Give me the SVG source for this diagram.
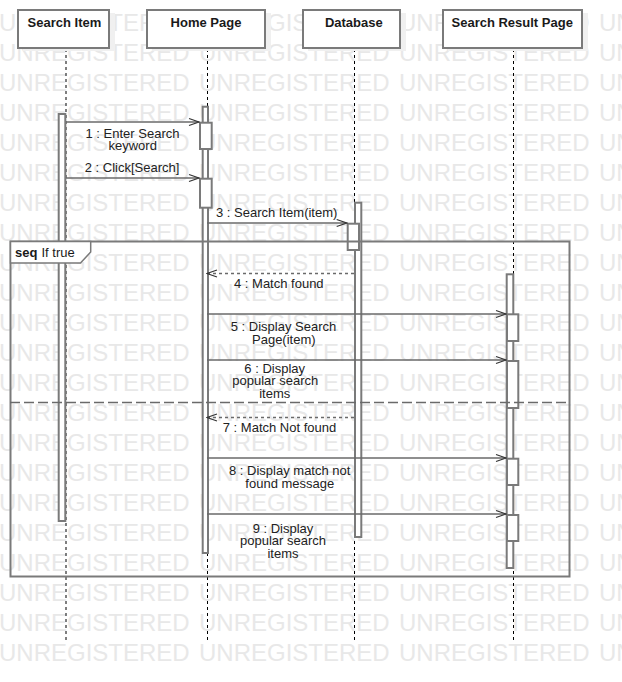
<svg xmlns="http://www.w3.org/2000/svg" width="622" height="682" viewBox="0 0 622 682">
  <style>
    .wm { font-family: "Liberation Sans", Arial, sans-serif; font-size: 24px; fill: #e8e8e8; }
    .head { fill: #ffffff; stroke: #7a7a7a; stroke-width: 2; }
    .shadow { fill: #f0f0f0; }
    .htxt { font-family: "Liberation Sans", Arial, sans-serif; font-size: 13px; font-weight: bold; fill: #1a1a1a; text-anchor: middle; }
    .life { stroke: #000000; stroke-width: 1; stroke-dasharray: 3 3; fill: none; }
    .bar { fill: #ffffff; stroke: #7a7a7a; stroke-width: 2; }
    .msg { stroke: #6a6a6a; stroke-width: 1.3; fill: none; }
    .ret { stroke: #6a6a6a; stroke-width: 1.3; fill: none; stroke-dasharray: 3 3; }
    .lbl { font-family: "Liberation Sans", Arial, sans-serif; font-size: 13px; fill: #222222; text-anchor: middle; }
    .frame { fill: none; stroke: #7a7a7a; stroke-width: 2; }
    .sep { stroke: #6a6a6a; stroke-width: 1.6; stroke-dasharray: 10 4; fill: none; }
    .tab { fill: #ffffff; stroke: #7a7a7a; stroke-width: 1.5; }
    .ftxt { font-family: "Liberation Sans", Arial, sans-serif; font-size: 13px; fill: #1a1a1a; }
  </style>
  <defs>
    <marker id="open" viewBox="0 0 12 10" refX="11" refY="5" markerWidth="12" markerHeight="10" markerUnits="userSpaceOnUse" orient="auto">
      <path d="M1,1.5 L11,5 L1,8.5" fill="none" stroke="#333333" stroke-width="1.2"/>
    </marker>
    <g id="wmrow">
      <text class="wm" x="-1">UNREGISTERED</text>
      <text class="wm" x="199">UNREGISTERED</text>
      <text class="wm" x="399">UNREGISTERED</text>
      <text class="wm" x="599">UNREGISTERED</text>
    </g>
  </defs>

  <rect width="622" height="682" fill="#ffffff"/>

  <!-- evaluation watermark rows -->
  <g id="watermark">
    <use href="#wmrow" y="30.7"/>
    <use href="#wmrow" y="60.7"/>
    <use href="#wmrow" y="90.7"/>
    <use href="#wmrow" y="120.7"/>
    <use href="#wmrow" y="150.7"/>
    <use href="#wmrow" y="180.7"/>
    <use href="#wmrow" y="210.7"/>
    <use href="#wmrow" y="240.7"/>
    <use href="#wmrow" y="270.7"/>
    <use href="#wmrow" y="300.7"/>
    <use href="#wmrow" y="330.7"/>
    <use href="#wmrow" y="360.7"/>
    <use href="#wmrow" y="390.7"/>
    <use href="#wmrow" y="420.7"/>
    <use href="#wmrow" y="450.7"/>
    <use href="#wmrow" y="480.7"/>
    <use href="#wmrow" y="510.7"/>
    <use href="#wmrow" y="540.7"/>
    <use href="#wmrow" y="570.7"/>
    <use href="#wmrow" y="600.7"/>
    <use href="#wmrow" y="630.7"/>
    <use href="#wmrow" y="660.7"/>
  </g>

  <!-- lifelines -->
  <g id="lifelines">
    <line class="life" x1="66" y1="49" x2="66" y2="640"/>
    <line class="life" x1="207.5" y1="49" x2="207.5" y2="640"/>
    <line class="life" x1="354.5" y1="49" x2="354.5" y2="640"/>
    <line class="life" x1="513.5" y1="49" x2="513.5" y2="640"/>
  </g>

  <!-- participants -->
  <g id="search-item">
    <rect class="shadow" x="23" y="13" width="92" height="38"/>
    <rect class="head" x="18" y="10" width="91" height="38"/>
    <text class="htxt" x="64.4" y="27">Search Item</text>
    <rect class="bar" x="58.7" y="114" width="6.6" height="407"/>
  </g>
  <g id="home-page">
    <rect class="shadow" x="152" y="13" width="119" height="38"/>
    <rect class="head" x="147" y="10" width="118" height="38"/>
    <text class="htxt" x="206" y="27">Home Page</text>
    <rect class="bar" x="202.7" y="106.7" width="5.3" height="446.3"/>
    <rect class="bar" x="200" y="122.7" width="11.7" height="26.3"/>
    <rect class="bar" x="200" y="178.7" width="11.7" height="29"/>
  </g>
  <g id="database">
    <rect class="shadow" x="308" y="13" width="98" height="38"/>
    <rect class="head" x="303" y="10" width="97" height="38"/>
    <text class="htxt" x="353.8" y="27">Database</text>
    <rect class="bar" x="355" y="202.7" width="6.3" height="334.3"/>
    <rect class="bar" x="347.7" y="223.7" width="11.3" height="26.3"/>
  </g>
  <g id="search-result-page">
    <rect class="shadow" x="448" y="13" width="140" height="38"/>
    <rect class="head" x="443" y="10" width="139" height="38"/>
    <text class="htxt" x="512.2" y="27">Search Result Page</text>
    <rect class="bar" x="506.7" y="274.3" width="6.6" height="293.7"/>
    <rect class="bar" x="507" y="314.3" width="11.3" height="26.7"/>
    <rect class="bar" x="507" y="361" width="11.3" height="47"/>
    <rect class="bar" x="507" y="458.7" width="11.3" height="26.3"/>
    <rect class="bar" x="507" y="515" width="11.3" height="26"/>
  </g>

  <!-- combined fragment, drawn over the activation bars -->
  <g id="frame-seq">
    <rect class="frame" x="10.5" y="241.5" width="559" height="335"/>
    <line class="sep" x1="10" y1="402.5" x2="570" y2="402.5"/>
    <path class="tab" d="M10.5,241.5 H90.7 V252 L80.5,263 H10.5 Z"/>
    <text class="ftxt" x="15" y="257" font-weight="bold">seq</text>
    <text class="ftxt" x="41.5" y="257">If true</text>
  </g>

  <!-- messages -->
  <g id="connectors">
    <line class="msg" x1="66" y1="122" x2="199" y2="122" marker-end="url(#open)"/>
    <line class="msg" x1="66" y1="178" x2="199" y2="178" marker-end="url(#open)"/>
    <line class="msg" x1="207" y1="223" x2="346.7" y2="223" marker-end="url(#open)"/>
    <line class="ret" x1="354" y1="273.5" x2="207" y2="273.5" marker-end="url(#open)"/>
    <line class="msg" x1="207" y1="314" x2="506" y2="314" marker-end="url(#open)"/>
    <line class="msg" x1="207" y1="360" x2="506" y2="360" marker-end="url(#open)"/>
    <line class="ret" x1="354" y1="417.5" x2="207" y2="417.5" marker-end="url(#open)"/>
    <line class="msg" x1="207" y1="458" x2="506" y2="458" marker-end="url(#open)"/>
    <line class="msg" x1="207" y1="514" x2="506" y2="514" marker-end="url(#open)"/>
  </g>

  <!-- message labels -->
  <g id="labels">
    <text class="lbl" x="132.5" y="137.7">1 : Enter Search</text>
    <text class="lbl" x="132.7" y="150.2">keyword</text>
    <text class="lbl" x="132" y="171.5">2 : Click[Search]</text>
    <text class="lbl" x="276.7" y="216.7">3 : Search Item(item)</text>
    <text class="lbl" x="278.8" y="287.6">4 : Match found</text>
    <text class="lbl" x="283.5" y="331">5 : Display Search</text>
    <text class="lbl" x="283.8" y="343.5">Page(item)</text>
    <text class="lbl" x="274.7" y="372.6">6 : Display</text>
    <text class="lbl" x="275.3" y="385.1">popular search</text>
    <text class="lbl" x="274.7" y="397.6">items</text>
    <text class="lbl" x="279.5" y="432">7 : Match Not found</text>
    <text class="lbl" x="289.7" y="475.3">8 : Display match not</text>
    <text class="lbl" x="289.8" y="487.8">found message</text>
    <text class="lbl" x="283" y="532.6">9 : Display</text>
    <text class="lbl" x="283" y="545.1">popular search</text>
    <text class="lbl" x="283" y="557.6">items</text>
  </g>
</svg>
